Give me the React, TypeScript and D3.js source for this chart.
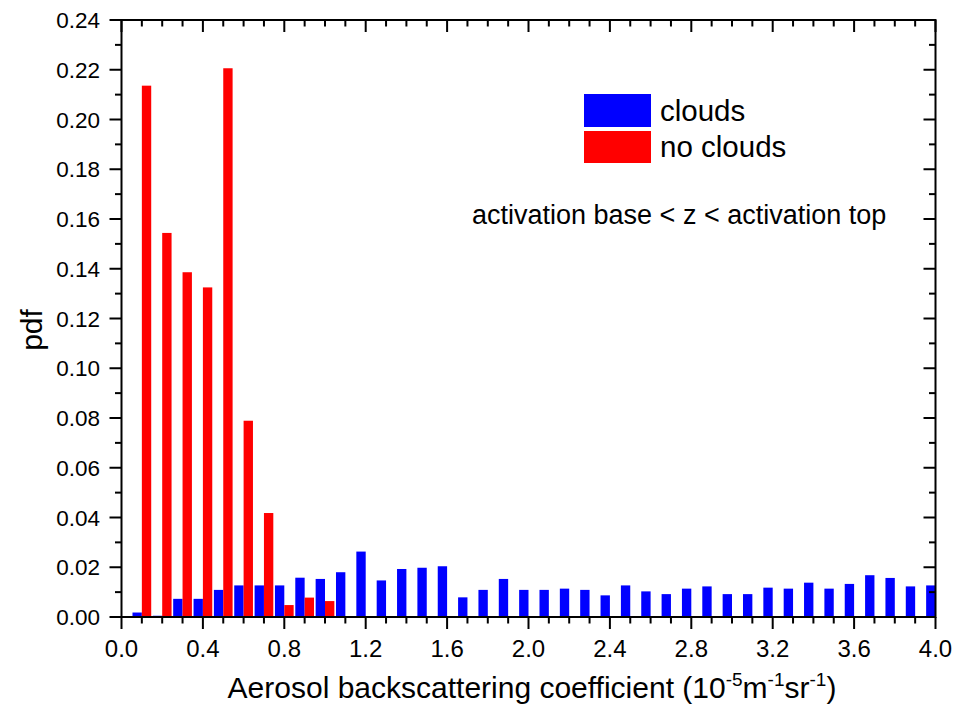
import React from "react";
import * as d3 from "d3";

const binCenters = d3.range(1, 41).map((i) => +(i * 0.1).toFixed(1));
const cloudsValues = [
  0.0018, 0.0005, 0.0073, 0.0073, 0.0109, 0.0127, 0.0127, 0.0127, 0.0158, 0.0153,
  0.018, 0.0263, 0.0147, 0.0193, 0.0198, 0.0204, 0.0079, 0.0109, 0.0153, 0.0109,
  0.0109, 0.0114, 0.0109, 0.0087, 0.0127, 0.0103, 0.0092, 0.0114, 0.0123, 0.0092,
  0.0092, 0.0118, 0.0114, 0.0138, 0.0114, 0.0133, 0.0168, 0.0157, 0.0123, 0.0127,
];
const noCloudsValues = [
  0.2136, 0.1544, 0.1386, 0.1325, 0.2206, 0.0789, 0.0418, 0.0048, 0.0078, 0.0064,
];
const xMajorTicks = d3.range(0, 4.01, 0.4).map((v) => +v.toFixed(1));
const xMinorTicks = d3.range(0, 4.01, 0.1).map((v) => +v.toFixed(1));
const yMajorTicks = d3.range(0, 0.2401, 0.02).map((v) => +v.toFixed(2));
const yMinorTicks = d3.range(0, 0.2401, 0.01).map((v) => +v.toFixed(2));
const legendLabels = ["clouds", "no clouds"];
const annotation = "activation base < z < activation top";

const W = 954;
const H = 719;
const FONT = "'Liberation Sans', Arial, Helvetica, sans-serif";

export default function App() {
  const x = d3.scaleLinear().domain([0, 4]).range([121.5, 935.5]);
  const y = d3.scaleLinear().domain([0, 0.24]).range([617, 20]);
  const bw = x(0.046) - x(0);
  const [x0, x1] = x.range();
  const [y0, y1] = y.range();
  const MAJ = 12;
  const MIN = 6.5;
  const stroke = "#000";
  const sw = 2;

  return (
    <svg
      width={W}
      height={H}
      style={{ position: "absolute", left: 0, top: 0, background: "#fff" }}
      fontFamily={FONT}
    >
      <rect x={0} y={0} width={W} height={H} fill="#fff" />
      {cloudsValues.map((v, i) => (
        <rect
          key={"c" + i}
          x={x(binCenters[i]) - bw}
          y={y(v)}
          width={bw}
          height={y(0) - y(v)}
          fill="#0000ff"
        />
      ))}
      {noCloudsValues.map((v, i) => (
        <rect
          key={"n" + i}
          x={x(binCenters[i])}
          y={y(v)}
          width={bw}
          height={y(0) - y(v)}
          fill="#ff0000"
        />
      ))}
      <rect x={x0} y={y1} width={x1 - x0} height={y0 - y1} fill="none" stroke={stroke} strokeWidth={sw} />
      {xMinorTicks.map((t) => {
        const major = xMajorTicks.some((m) => Math.abs(m - t) < 1e-6);
        const len = major ? MAJ : MIN;
        return (
          <g key={"xt" + t}>
            <line x1={x(t)} x2={x(t)} y1={y0} y2={y0 + len} stroke={stroke} strokeWidth={sw} />
            <line x1={x(t)} x2={x(t)} y1={y1} y2={y1 + len} stroke={stroke} strokeWidth={sw} />
          </g>
        );
      })}
      {xMajorTicks.map((t) => (
        <text key={"xl" + t} x={x(t)} y={657} textAnchor="middle" fontSize={24} fill="#000">
          {t.toFixed(1)}
        </text>
      ))}
      {yMinorTicks.map((t) => {
        const major = yMajorTicks.some((m) => Math.abs(m - t) < 1e-6);
        const len = major ? MAJ : MIN;
        return (
          <g key={"yt" + t}>
            <line x1={x0} x2={x0 - len} y1={y(t)} y2={y(t)} stroke={stroke} strokeWidth={sw} />
            <line x1={x1} x2={x1 - len} y1={y(t)} y2={y(t)} stroke={stroke} strokeWidth={sw} />
          </g>
        );
      })}
      {yMajorTicks.map((t) => (
        <text key={"yl" + t} x={100} y={y(t) + 8} textAnchor="end" fontSize={22.5} fill="#000">
          {t.toFixed(2)}
        </text>
      ))}
      <text x={532} y={698} textAnchor="middle" fontSize={30} fill="#000">
        Aerosol backscattering coefficient (10
        <tspan fontSize={19} dy={-12}>-5</tspan>
        <tspan dy={12}>m</tspan>
        <tspan fontSize={19} dy={-12}>-1</tspan>
        <tspan dy={12}>sr</tspan>
        <tspan fontSize={19} dy={-12}>-1</tspan>
        <tspan dy={12}>)</tspan>
      </text>
      <text transform={`translate(42,330) rotate(-90)`} textAnchor="middle" fontSize={30} fill="#000">
        pdf
      </text>
      <rect x={584} y={94} width={67} height={33} fill="#0000ff" />
      <rect x={584} y={131} width={67} height={32} fill="#ff0000" />
      <text x={660} y={121} fontSize={29.5} fill="#000">{legendLabels[0]}</text>
      <text x={660} y={157} fontSize={29.5} fill="#000">{legendLabels[1]}</text>
      <text x={472} y={224} fontSize={27} fill="#000">{annotation}</text>
    </svg>
  );
}
